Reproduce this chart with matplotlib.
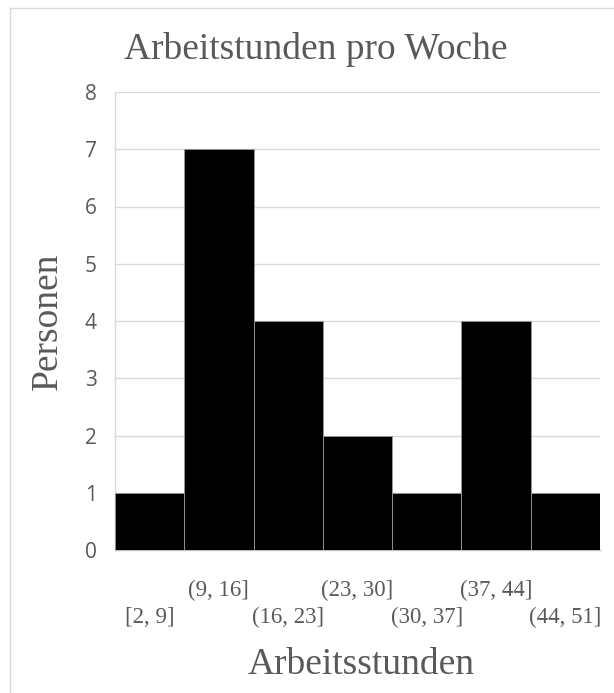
import matplotlib
matplotlib.use("Agg")
import matplotlib.pyplot as plt
from matplotlib.patches import Rectangle

# Histogram of weekly working hours
bins = ["[2, 9]", "(9, 16]", "(16, 23]", "(23, 30]", "(30, 37]", "(37, 44]", "(44, 51]"]
counts = [1, 7, 4, 2, 1, 4, 1]
yticks = [0, 1, 2, 3, 4, 5, 6, 7, 8]

grey_text = "#595959"
grid_col = "#d9d9d9"
serif = ["Liberation Serif", "DejaVu Serif"]

W, H = 614, 693
fig = plt.figure(figsize=(W / 100, H / 100), dpi=100)

# chart frame (only left and top edges fall inside the image)
fig.patches.append(Rectangle((10 / W, -0.1), 1.2, 1.1 - 8.5 / H,
                             transform=fig.transFigure, fill=False,
                             edgecolor=grid_col, linewidth=1.0))

ax = fig.add_axes([115 / W, 1 - 550 / H, (600 - 115) / W, (550 - 92) / H])

pos = list(range(len(bins)))
ax.bar(pos, counts, width=1.0, color="black", edgecolor="#9a9a9a", linewidth=0.6, zorder=3)

ax.set_xlim(-0.5, len(bins) - 0.5)
ax.set_ylim(0, 8)
ax.set_yticks(yticks)
ax.yaxis.grid(True, color=grid_col, linewidth=1.0, zorder=0)
ax.set_axisbelow(True)

for s in ["top", "right"]:
    ax.spines[s].set_visible(False)
ax.spines["left"].set_color(grid_col)
ax.spines["bottom"].set_color("#bfbfbf")
ax.spines["left"].set_linewidth(1.0)
ax.spines["bottom"].set_linewidth(1.0)

ax.tick_params(axis="y", length=0, pad=13, labelsize=15, labelcolor=grey_text)
for lab in ax.get_yticklabels():
    lab.set_fontfamily("Open Sans")

ax.set_xticks(pos)
ax.set_xticklabels(bins, fontsize=16.5, color=grey_text, fontfamily=serif)
ax.tick_params(axis="x", length=0)
# staggered category labels
for i, t in enumerate(ax.xaxis.get_major_ticks()):
    t.set_pad(21.5 if i % 2 else 41)

ax.set_xlabel("Arbeitsstunden", fontsize=27, color=grey_text, fontfamily=serif, va="center")
ax.xaxis.set_label_coords(0.507, -0.251)
ax.set_ylabel("Personen", fontsize=27, color=grey_text, fontfamily=serif, va="center")
ax.yaxis.set_label_coords(-0.138, 0.5)

fig.text(316 / W, 1 - 59 / H, "Arbeitstunden pro Woche", ha="center", va="baseline",
         fontsize=27, color=grey_text, fontfamily=serif)

fig.savefig("out.png", dpi=100)
